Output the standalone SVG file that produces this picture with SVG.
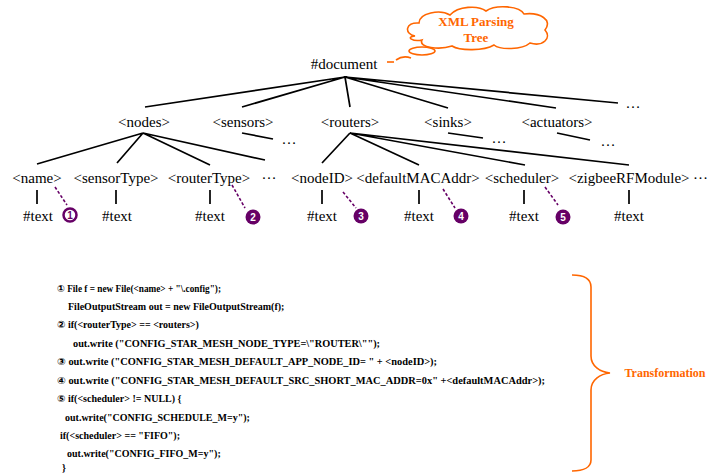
<svg xmlns="http://www.w3.org/2000/svg" width="707" height="474" viewBox="0 0 707 474">
<style>
.n{font-family:"Liberation Serif","Times New Roman",serif;font-size:15px;fill:#000;text-anchor:middle}
.l{font-family:"Liberation Serif","Times New Roman",serif;font-size:15px;fill:#000}
.c{font-family:"Liberation Serif","DejaVu Sans","Noto Sans CJK SC",serif;font-size:10px;font-weight:bold;fill:#000}
.o{font-family:"Liberation Serif","Times New Roman",serif;font-weight:bold;fill:#ff6600;text-anchor:middle}
.e{stroke:#000;stroke-width:1.7;fill:none}
.d{stroke:#660066;stroke-width:1.6;stroke-dasharray:3,2;fill:none}
.ring{fill:#fff;stroke:#660066;stroke-width:2.5}
.dot{fill:#660066}
.num{font-family:"Liberation Sans",Arial,sans-serif;font-size:10px;font-weight:bold;text-anchor:middle}
.orange{stroke:#ff6600;stroke-width:1.6;fill:none}
</style>

<g id="cloud">
<path class="orange" fill="#fff" d="M 415,36 C 404,34 405,22 419,23 C 419,13 440,9 450,15 C 458,6 478,5 486,11 C 496,4 520,6 524,14 C 540,12 553,20 545,30 C 552,38 543,47 530,43 C 522,50 500,50 494,45 C 484,51 460,51 452,46 C 440,50 418,48 422,40 C 413,42 405,37 415,36 Z"/>
<ellipse class="orange" cx="422" cy="51" rx="13" ry="4"/>
<path class="orange" d="M 396,60 Q 403,55 411,58"/>
<path class="orange" d="M 387,62 L 394,62"/>
<text class="o" x="476" y="26" font-size="13">XML Parsing</text>
<text class="o" x="476" y="42" font-size="13">Tree</text>
</g>

<g id="connectors">
<path class="e" d="M345,77 L145,107 M345,77 L242,107 M345,77 L350,107 M345,77 L448,108 M345,77 L556,108 M345,77 L618,103"/>
<path class="e" d="M143,133 L37,164 M143,133 L117,163 M143,133 L210,165 M143,133 L265,160"/>
<path class="e" d="M242,133 L273,139"/>
<path class="e" d="M350,133 L322,163 M350,133 L419,165 M350,133 L525,165 M350,133 L629,165"/>
<path class="e" d="M448,133 L483,138"/>
<path class="e" d="M557,133 L590,140"/>
<path class="e" d="M37,190 V204 M116,190 V204 M210,190 V204 M322,190 V204 M419,190 V204 M524,190 V204 M629,190 V204"/>
<path class="d" d="M55,187 L67,205 M232,185 L245,208 M343,192 L356,208 M443,189 L455,208 M545,187 L558,205"/>
</g>

<g id="document"><text class="n" x="344" y="69">#document</text></g>
<g id="topdots"><text class="n" x="633" y="108">…</text></g>

<g id="nodes"><text class="n" x="144" y="127">&lt;nodes&gt;</text></g>
<g id="sensors"><text class="n" x="243" y="127">&lt;sensors&gt;</text></g>
<g id="sensorsdots"><text class="n" x="289" y="144">…</text></g>
<g id="routers"><text class="n" x="350" y="127">&lt;routers&gt;</text></g>
<g id="sinks"><text class="n" x="448" y="127">&lt;sinks&gt;</text></g>
<g id="sinksdots"><text class="n" x="499" y="143">…</text></g>
<g id="actuators"><text class="n" x="557" y="127">&lt;actuators&gt;</text></g>
<g id="actuatorsdots"><text class="n" x="608" y="146">…</text></g>

<g id="name"><text class="n" x="37" y="183">&lt;name&gt;</text></g>
<g id="sensorType"><text class="n" x="116" y="183">&lt;sensorType&gt;</text></g>
<g id="routerType"><text class="n" x="209" y="183">&lt;routerType&gt;</text></g>
<g id="row3dots1"><text class="n" x="269" y="179">…</text></g>
<g id="nodeID"><text class="n" x="322" y="183">&lt;nodeID&gt;</text></g>
<g id="defaultMACAddr"><text class="n" x="418" y="183">&lt;defaultMACAddr&gt;</text></g>
<g id="scheduler"><text class="n" x="522" y="183">&lt;scheduler&gt;</text></g>
<g id="zigbeeRFModule"><text class="n" x="629" y="183">&lt;zigbeeRFModule&gt;</text></g>
<g id="row3dots2"><text class="l" x="693" y="179">…</text></g>

<g id="text1"><text class="n" x="38" y="221">#text</text></g>
<g id="text2"><text class="n" x="117" y="221">#text</text></g>
<g id="text3"><text class="n" x="210" y="221">#text</text></g>
<g id="text4"><text class="n" x="322" y="221">#text</text></g>
<g id="text5"><text class="n" x="419" y="221">#text</text></g>
<g id="text6"><text class="n" x="524" y="221">#text</text></g>
<g id="text7"><text class="n" x="629" y="221">#text</text></g>

<g id="mark1"><circle class="ring" cx="70" cy="215" r="6.5"/><text class="num" x="70" y="219" fill="#660066">1</text></g>
<g id="mark2"><circle class="dot" cx="253" cy="217" r="7.5"/><text class="num" x="253" y="221" fill="#fff">2</text></g>
<g id="mark3"><circle class="dot" cx="361" cy="216" r="7.5"/><text class="num" x="361" y="220" fill="#fff">3</text></g>
<g id="mark4"><circle class="dot" cx="461" cy="216" r="7.5"/><text class="num" x="461" y="220" fill="#fff">4</text></g>
<g id="mark5"><circle class="dot" cx="563" cy="217" r="7.5"/><text class="num" x="563" y="221" fill="#fff">5</text></g>

<g id="code">
<text class="c" x="57" y="292" textLength="164" lengthAdjust="spacingAndGlyphs">① File f = new File(&lt;name&gt; + "\.config");</text>
<text class="c" x="68" y="310">FileOutputStream out = new FileOutputStream(f);</text>
<text class="c" x="57" y="328">② if(&lt;routerType&gt; == &lt;routers&gt;)</text>
<text class="c" x="73" y="347" textLength="307" lengthAdjust="spacingAndGlyphs">out.write ("CONFIG_STAR_MESH_NODE_TYPE=\"ROUTER\"");</text>
<text class="c" x="57" y="365" textLength="380" lengthAdjust="spacingAndGlyphs">③ out.write ("CONFIG_STAR_MESH_DEFAULT_APP_NODE_ID= " + &lt;nodeID&gt;);</text>
<text class="c" x="57" y="384" textLength="488" lengthAdjust="spacingAndGlyphs">④ out.write ("CONFIG_STAR_MESH_DEFAULT_SRC_SHORT_MAC_ADDR=0x" +&lt;defaultMACAddr&gt;);</text>
<text class="c" x="57" y="402">⑤ if(&lt;scheduler&gt; != NULL) {</text>
<text class="c" x="65" y="421">out.write("CONFIG_SCHEDULE_M=y");</text>
<text class="c" x="60" y="439">if(&lt;scheduler&gt; == "FIFO");</text>
<text class="c" x="67" y="457">out.write("CONFIG_FIFO_M=y");</text>
<text class="c" x="62" y="471">}</text>
</g>

<g id="transformation">
<path class="orange" d="M 572,275 C 584,275 591,279 591,287 L 591,356 C 591,366 600,372 610,373 C 600,374 591,380 591,390 L 591,460 C 591,467 584,471 572,471"/>
<text class="o" x="665" y="377" font-size="12">Transformation</text>
</g>
</svg>
